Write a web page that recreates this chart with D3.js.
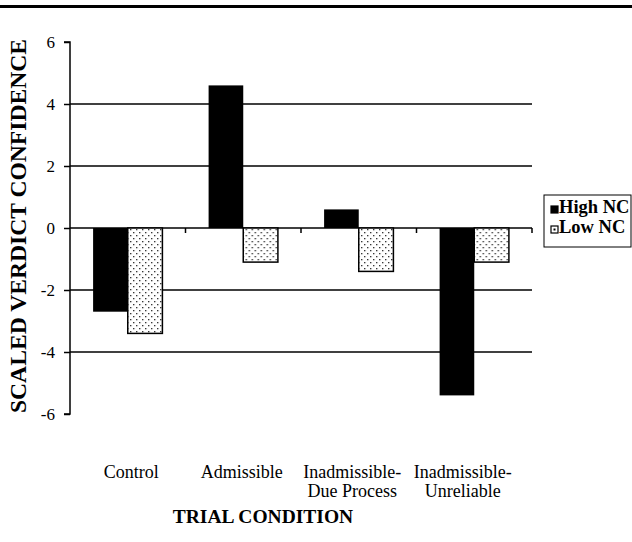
<!DOCTYPE html>
<html>
<head>
<meta charset="utf-8">
<script src="https://cdn.jsdelivr.net/npm/d3@7"></script>
<style>
  body { margin: 0; background: #fff; }
  svg { display: block; font-family: "Liberation Serif", "Times New Roman", serif; }
  .ytick text { font-size: 17px; font-family: "Liberation Serif", serif; }
</style>
</head>
<body>
<svg id="chart" width="632" height="542"></svg>
<script>
// data
let conditions = ["Control", "Admissible", "Inadmissible-\nDue Process", "Inadmissible-\nUnreliable"];
let groups = ["High NC", "Low NC"];
let highNC = [-2.7, 4.6, 0.6, -5.4];
let lowNC = [-3.4, -1.1, -1.4, -1.1];
let yTicks = [-6, -4, -2, 0, 2, 4, 6];
let gridTicks = [-4, -2, 0, 2, 4];

let rows = conditions.map(function(c, i) {
    return { cond: c, values: [highNC[i], lowNC[i]] };
});

let svg = d3.select("#chart");

let mLeft = 70, mRight = 532, mTop = 42, mBottom = 414;

let x = d3.scaleBand().domain(conditions).range([mLeft, mRight]).paddingInner(0.4).paddingOuter(0.2);
let xLab = d3.scaleBand().domain(conditions).range([76, 518]);
let xIn = d3.scaleBand().domain(groups).range([0, x.bandwidth()]);
let y = d3.scaleLinear().domain([-6, 6]).range([mBottom, mTop]);

// stipple pattern for low NC
let defs = svg.append("defs");
let pat = defs.append("pattern")
    .attr("id", "dots")
    .attr("patternUnits", "userSpaceOnUse")
    .attr("width", 6).attr("height", 6);
pat.append("rect").attr("width", 6).attr("height", 6).attr("fill", "#fff");
pat.append("rect").attr("x", 1).attr("y", 1).attr("width", 1.3).attr("height", 1.3).attr("fill", "#222");
pat.append("rect").attr("x", 4).attr("y", 4).attr("width", 1.3).attr("height", 1.3).attr("fill", "#222");

// top rule
svg.append("rect").attr("x", 0).attr("y", 5).attr("width", 632).attr("height", 3).attr("fill", "#000");

// gridlines
svg.append("g").selectAll("line")
    .data(gridTicks)
    .join("line")
    .attr("x1", mLeft).attr("x2", mRight)
    .attr("y1", function(d) { return y(d); })
    .attr("y2", function(d) { return y(d); })
    .attr("stroke", "#000").attr("stroke-width", 1.5);

// bars
let fills = { "High NC": "#000", "Low NC": "url(#dots)" };
svg.append("g").selectAll("g")
    .data(rows)
    .join("g")
    .attr("transform", function(d) { return "translate(" + x(d.cond) + ",0)"; })
    .selectAll("rect")
    .data(function(d) { return d.values.map(function(v, i) { return { key: groups[i], v: v }; }); })
    .join("rect")
    .attr("x", function(d) { return xIn(d.key); })
    .attr("width", xIn.bandwidth())
    .attr("y", function(d) { return y(Math.max(0, d.v)); })
    .attr("height", function(d) { return Math.abs(y(d.v) - y(0)); })
    .attr("fill", function(d) { return fills[d.key]; })
    .attr("stroke", "#000")
    .attr("stroke-width", function(d) { return d.key == "Low NC" ? 1.5 : 0; });

// category ticks on the zero line
svg.append("g").selectAll("line")
    .data(conditions)
    .join("line")
    .attr("x1", function(d) { return x(d) - x.step() * 0.2 + x.step(); })
    .attr("x2", function(d) { return x(d) - x.step() * 0.2 + x.step(); })
    .attr("y1", y(0)).attr("y2", y(0) + 5)
    .attr("stroke", "#000").attr("stroke-width", 1.5);

// y axis
let yAxis = d3.axisLeft(y).tickValues(yTicks).tickSize(6).tickPadding(9)
    .tickFormat(function(d) { return String(d); });
let ya = svg.append("g")
    .attr("class", "ytick")
    .attr("transform", "translate(" + mLeft + ",0)")
    .call(yAxis);
ya.select(".domain").attr("stroke-width", 1.5).attr("d", "M-6," + y(6) + "H0V" + y(-6) + "H-6");
ya.selectAll(".tick line").attr("stroke-width", 1.5);
ya.selectAll(".tick text").attr("fill", "#000");

// y title
svg.append("text")
    .attr("transform", "translate(26,226) rotate(-90)")
    .attr("text-anchor", "middle")
    .attr("font-size", 23.6)
    .attr("font-weight", "bold")
    .text("SCALED VERDICT CONFIDENCE");

// category labels
let cl = svg.append("g").selectAll("text")
    .data(conditions)
    .join("text")
    .attr("text-anchor", "middle")
    .attr("font-size", 18)
    .attr("y", 478);
cl.selectAll("tspan")
    .data(function(d) { return d.split("\n").map(function(s) { return { s: s, c: d }; }); })
    .join("tspan")
    .attr("x", function(d) { return xLab(d.c) + xLab.bandwidth() / 2; })
    .attr("dy", function(d, i) { return i == 0 ? 0 : 19; })
    .text(function(d) { return d.s; });

// x title
svg.append("text")
    .attr("x", 263).attr("y", 523)
    .attr("text-anchor", "middle")
    .attr("font-size", 19.5)
    .attr("font-weight", "bold")
    .text("TRIAL CONDITION");

// legend
let lg = svg.append("g").attr("transform", "translate(544,195)");
lg.append("rect").attr("x", 0).attr("y", 0).attr("width", 87).attr("height", 52)
    .attr("fill", "#fff").attr("stroke", "#000").attr("stroke-width", 1);
let li = lg.selectAll("g.item")
    .data(groups)
    .join("g")
    .attr("class", "item")
    .attr("transform", function(d, i) { return "translate(7," + (11 + i * 20) + ")"; });
li.append("rect")
    .attr("width", 7).attr("height", 7)
    .attr("fill", function(d) { return d == "High NC" ? "#000" : "#fff"; })
    .attr("stroke", "#000").attr("stroke-width", 1.2);
li.filter(function(d) { return d == "Low NC"; }).append("rect")
    .attr("x", 2.5).attr("y", 2.5).attr("width", 2).attr("height", 2).attr("fill", "#000");
li.append("text")
    .attr("x", 8).attr("y", 7)
    .attr("font-size", 18.5)
    .attr("font-weight", "bold")
    .text(function(d) { return d; });
</script>
</body>
</html>
